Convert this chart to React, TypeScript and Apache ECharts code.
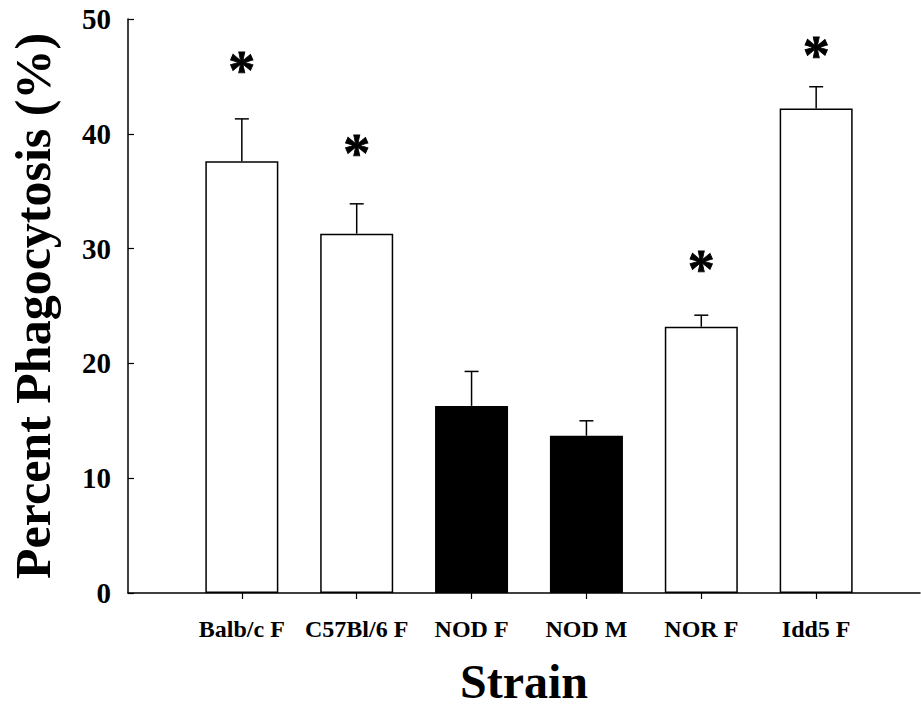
import React, { useEffect, useRef } from "react";
import * as echarts from "echarts";

const categories = ["Balb/c F", "C57Bl/6 F", "NOD F", "NOD M", "NOR F", "Idd5 F"];
const means = [37.6, 31.3, 16.3, 13.7, 23.2, 42.2];
const sem = [3.7, 2.6, 3.0, 1.3, 1.0, 1.9];
const starLevels: (number | null)[] = [46.2, 38.9, null, null, 28.8, 47.5];
const yTicks = [0, 10, 20, 30, 40, 50];

const FONT = "'Liberation Serif', 'Times New Roman', serif";

export default function App() {
  const ref = useRef<HTMLDivElement>(null);
  useEffect(() => {
    if (!ref.current) return;
    const chart = echarts.init(ref.current, null, { renderer: "svg" });
    const idx = categories.map((_, i) => i);
    const barData = means.map((v, i) => ({
      value: [i, v],
      itemStyle: {
        color: categories[i].startsWith("NOD") ? "#000" : "#fff",
        borderColor: "#000",
        borderWidth: 1.5,
      },
    }));
    const errData = means.map((v, i) => [i, v, v + sem[i]]);
    const starData = starLevels
      .map((s, i) => (s == null ? null : [i, s]))
      .filter((d) => d != null);

    chart.setOption({
      animation: false,
      backgroundColor: "#fff",
      grid: { left: 127, right: 1, top: 19, bottom: 118, containLabel: false },
      xAxis: {
        type: "value",
        min: -0.991,
        max: 5.904,
        name: "Strain",
        nameLocation: "middle",
        nameGap: 64,
        nameTextStyle: { fontFamily: FONT, fontWeight: "bold", fontSize: 48, color: "#000" },
        splitLine: { show: false },
        axisLine: { show: true, onZero: false, lineStyle: { color: "#000", width: 1.5 } },
        axisTick: {
          show: true,
          inside: false,
          length: 6,
          customValues: idx,
          lineStyle: { color: "#000", width: 1.2 },
        },
        axisLabel: {
          show: true,
          customValues: idx,
          margin: 24,
          formatter: (v: number) => categories[Math.round(v)] ?? "",
          fontFamily: FONT,
          fontWeight: "bold",
          fontSize: 24,
          color: "#000",
        },
      },
      yAxis: {
        type: "value",
        min: 0,
        max: 50,
        interval: 10,
        name: "Percent Phagocytosis (%)",
        nameLocation: "middle",
        nameGap: 70,
        nameTextStyle: { fontFamily: FONT, fontWeight: "bold", fontSize: 50, color: "#000" },
        splitLine: { show: false },
        axisLine: { show: true, onZero: false, lineStyle: { color: "#000", width: 1.5 } },
        axisTick: { show: true, inside: true, length: 6, lineStyle: { color: "#000", width: 1.2 } },
        axisLabel: {
          margin: 17,
          formatter: (v: number) => (yTicks.includes(v) ? String(v) : ""),
          fontFamily: FONT,
          fontWeight: "bold",
          fontSize: 29,
          color: "#000",
        },
      },
      series: [
        {
          type: "bar",
          data: barData,
          barWidth: 73,
          z: 2,
        },
        {
          type: "custom",
          data: errData,
          z: 3,
          renderItem: (params: any, api: any) => {
            const i = api.value(0);
            const base = api.coord([i, api.value(1)]);
            const top = api.coord([i, api.value(2)]);
            const style = { stroke: "#000", lineWidth: 1.5, fill: "none" };
            return {
              type: "group",
              children: [
                { type: "line", shape: { x1: base[0], y1: base[1], x2: top[0], y2: top[1] }, style },
                { type: "line", shape: { x1: top[0] - 7, y1: top[1], x2: top[0] + 7, y2: top[1] }, style },
              ],
            };
          },
        },
        {
          type: "scatter",
          data: starData,
          symbolSize: 1,
          itemStyle: { color: "rgba(0,0,0,0)", opacity: 1 },
          label: {
            show: true,
            position: "inside",
            formatter: "*",
            offset: [0, 7],
            fontFamily: FONT,
            fontWeight: "bold",
            fontSize: 54,
            color: "#000",
            opacity: 1,
            textBorderColor: "#000",
            textBorderWidth: 0.8,
          },
          z: 4,
        },
      ],
    });
    return () => chart.dispose();
  }, []);
  return (
    <div
      ref={ref}
      style={{ position: "fixed", left: 0, top: 0, width: 921, height: 711, background: "#fff" }}
    />
  );
}
